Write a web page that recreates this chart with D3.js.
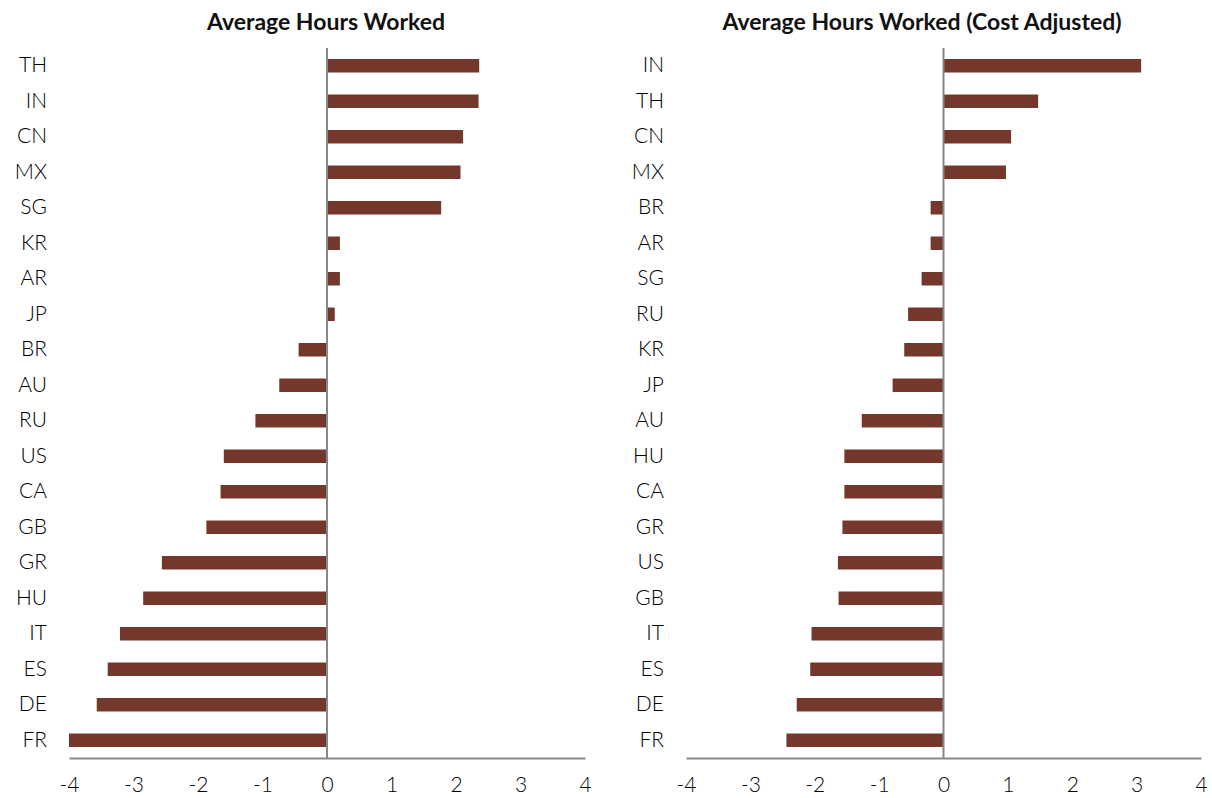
<!DOCTYPE html>
<html><head><meta charset="utf-8">
<script src="https://cdn.jsdelivr.net/npm/d3@7"></script>
<style>body{margin:0;background:#fff}svg text{font-family:Lato,"Open Sans",sans-serif}</style>
</head><body><svg id="c" width="1212" height="798"></svg>
<script>
const leftTitle = "Average Hours Worked";
const leftCats = ["TH","IN","CN","MX","SG","KR","AR","JP","BR","AU","RU","US","CA","GB","GR","HU","IT","ES","DE","FR"];
const leftVals = [2.36,2.35,2.11,2.07,1.77,0.2,0.2,0.12,-0.44,-0.74,-1.11,-1.6,-1.65,-1.87,-2.56,-2.85,-3.21,-3.4,-3.57,-4.0];
const rightTitle = "Average Hours Worked (Cost Adjusted)";
const rightCats = ["IN","TH","CN","MX","BR","AR","SG","RU","KR","JP","AU","HU","CA","GR","US","GB","IT","ES","DE","FR"];
const rightVals = [3.07,1.47,1.05,0.97,-0.2,-0.2,-0.34,-0.55,-0.61,-0.79,-1.27,-1.54,-1.54,-1.57,-1.64,-1.63,-2.05,-2.07,-2.28,-2.44];
const xTicks = [-4,-3,-2,-1,0,1,2,3,4];

const svg = d3.select("#c");
const barColor = "#74372b", axisColor = "#878787";

function panel(title, cats, vals, x0, x1, titleX){
  const g = svg.append("g");
  const x = d3.scaleLinear().domain([-4,4]).range([x0,x1]);
  const y = d3.scaleBand().domain(cats).range([48,758]).paddingInner(0.62).paddingOuter(0.31);
  g.append("text").attr("x",titleX).attr("y",30).attr("text-anchor","middle")
    .attr("font-weight","700").attr("font-size",23).attr("fill","#111").text(title);
  g.selectAll("rect").data(cats).join("rect")
    .attr("x",(d,i)=>x(Math.min(0,vals[i])))
    .attr("width",(d,i)=>Math.abs(x(vals[i])-x(0)))
    .attr("y",d=>y(d)).attr("height",y.bandwidth()).attr("fill",barColor);
  g.append("line").attr("x1",x(0)).attr("x2",x(0)).attr("y1",48).attr("y2",758)
    .attr("stroke",axisColor).attr("stroke-width",2);
  const ax = g.append("g").attr("transform","translate(0,758)")
    .call(d3.axisBottom(x).tickValues(xTicks).tickSize(0).tickPadding(19).tickFormat(d=>String(d)));
  ax.select(".domain").attr("stroke",axisColor).attr("stroke-width",2);
  ax.selectAll("text").attr("font-size",21).attr("font-weight",300).attr("fill","#000").style("font-family","Lato,sans-serif");
  const ay = g.append("g").attr("transform",`translate(${x0-22},0)`)
    .call(d3.axisLeft(y).tickSize(0).tickPadding(0));
  ay.select(".domain").remove();
  ay.selectAll("text").attr("font-size",21).attr("font-weight",300).attr("fill","#000").style("font-family","Lato,sans-serif");
}
panel(leftTitle,leftCats,leftVals,69,585,326);
panel(rightTitle,rightCats,rightVals,686,1201,922);
</script></body></html>
